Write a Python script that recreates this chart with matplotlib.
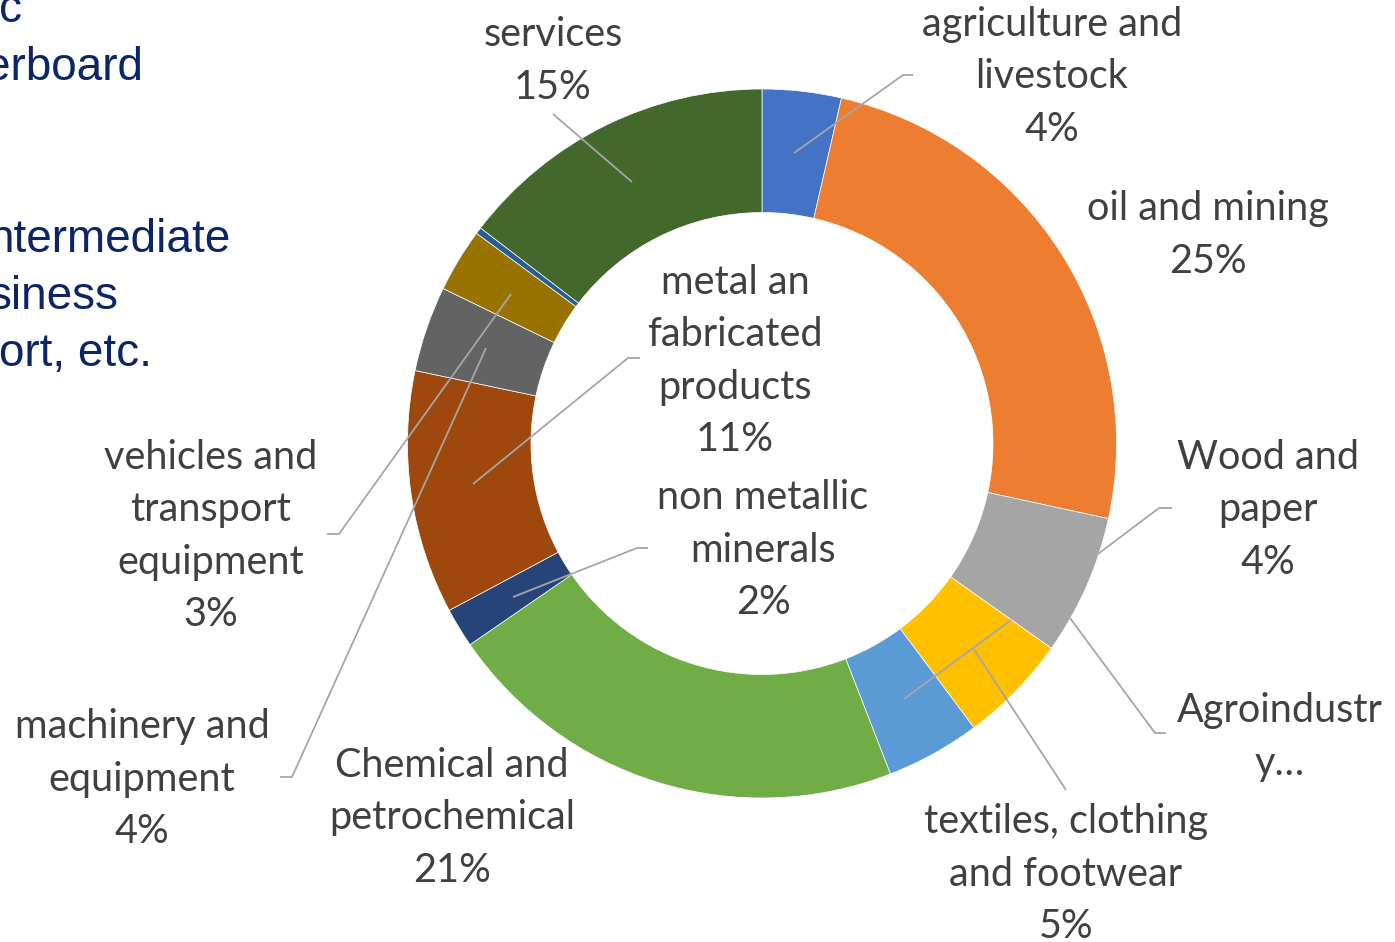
import matplotlib.pyplot as plt

# segment data, clockwise from 12 o'clock
sectors = ["agriculture and\nlivestock", "oil and mining", "Agroindustr\ny…",
           "textiles, clothing\nand footwear", "Wood and\npaper",
           "Chemical and\npetrochemical", "non metallic\nminerals",
           "metal an\nfabricated\nproducts", "machinery and\nequipment",
           "vehicles and\ntransport\nequipment", "", "services"]
shares = [3.6, 24.8, 6.4, 5.0, 4.3, 21.3, 1.8, 11.1, 3.9, 2.9, 0.3, 14.6]
show_pct = [True, True, False, True, True, True, True, True, True, True, False, True]
colors = ["#4472C4", "#ED7D31", "#A5A5A5", "#FFC000", "#5B9BD5", "#70AD47",
          "#264478", "#9E480E", "#636363", "#997300", "#255E91", "#43682B"]

# label centres (pixels), layout only
label_pos = [(1052, 77), (1208, 235), (1280, 737), (1066, 874), (1268, 510),
             (452, 818), (763, 550), (735, 361), (142, 779), (211, 536),
             None, (553, 61)]
leaders = [
    [(913, 75), (903, 75), (794, 153)],
    [(1172, 508), (1159, 508), (1098, 554)],
    [(1166, 733), (1155, 733), (1070, 618)],
    [(1066, 790), (973, 648)],
    [(1011, 620), (904, 699)],
    [(553, 114), (632, 182)],
    [(327, 534), (339, 534), (511, 294)],
    [(280, 777), (292, 777), (486, 348)],
    [(640, 358), (628, 358), (473, 484)],
    [(648, 548), (637, 548), (513, 597)],
]

# text cut off at the left edge of the slide
side_text = ["c", "erboard", "ntermediate", "siness", "ort, etc."]
side_pos = [(-1, 22), (-15, 80), (-12, 252), (-11, 309), (-1, 366)]

fig = plt.figure(figsize=(13.95, 9.42), dpi=100)
ax = fig.add_axes([0, 0, 1, 1])

R, r = 354.5, 231
ax.pie(shares, colors=colors, startangle=-90, counterclock=True,
       radius=R, center=(762, 443.5),
       wedgeprops=dict(width=R - r, edgecolor="white", linewidth=0.5))
ax.set_xlim(0, 1395)
ax.set_ylim(942, 0)
ax.set_aspect("equal")
ax.axis("off")

for pts in leaders:
    xs, ys = zip(*pts)
    ax.plot(xs, ys, color="#A6A6A6", lw=1.3, solid_capstyle="butt")

for name, v, pos, pct in zip(sectors, shares, label_pos, show_pct):
    if pos is None:
        continue
    txt = name + (f"\n{v:.0f}%" if pct else "")
    ax.text(pos[0], pos[1], txt, ha="center", va="center", multialignment="center",
            fontsize=28.5, family="Lato", color="#404040", linespacing=1.52)

for s, (x, y) in zip(side_text, side_pos):
    ax.text(x, y, s, ha="left", va="baseline", fontsize=33,
            family="Liberation Sans", color="#0C2468")

fig.savefig("out.png", dpi=100)
